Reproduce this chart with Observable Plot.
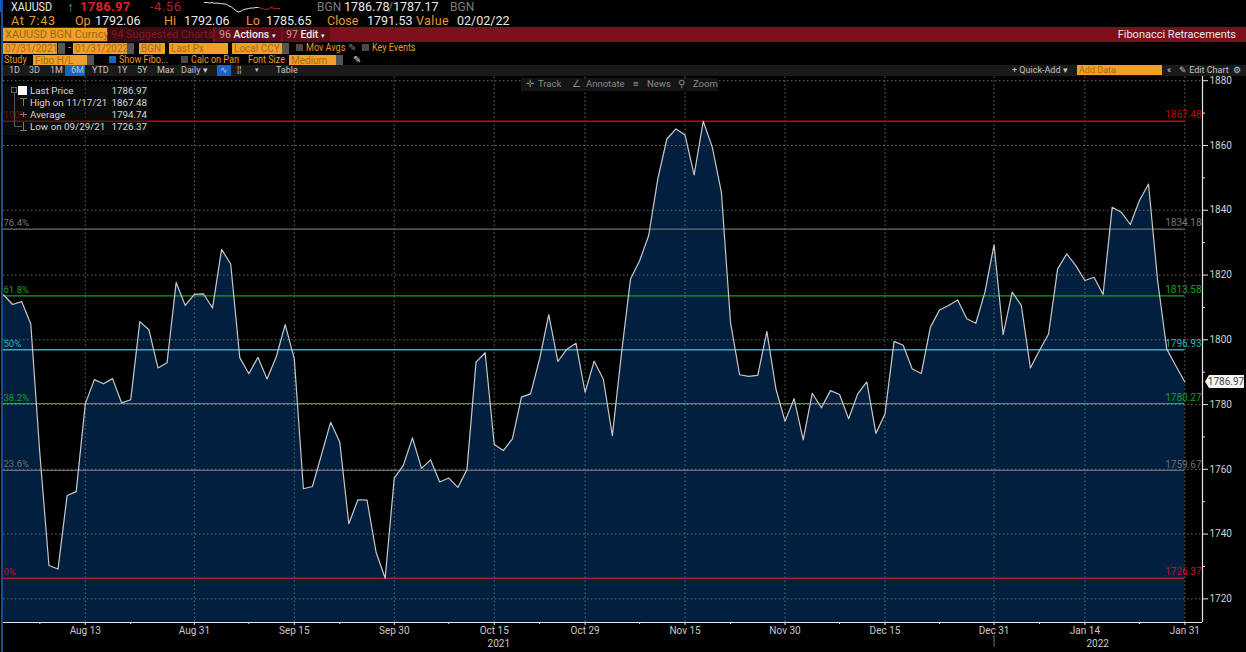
<!DOCTYPE html>
<html>
<head>
<meta charset="utf-8">
<script src="https://cdn.jsdelivr.net/npm/d3@7"></script>
<script src="https://cdn.jsdelivr.net/npm/@observablehq/plot@0.6"></script>
<style>
html,body{margin:0;padding:0;background:#000;width:1246px;height:652px;overflow:hidden;font-family:Roboto,"Liberation Sans",sans-serif}
#page{position:relative;width:1246px;height:652px;overflow:hidden}
#header{position:relative;height:76px;width:1246px}
#chart{position:absolute;left:0;top:76px}
.a{position:absolute;white-space:nowrap;line-height:12px}
.w{color:#e8e8e8}.o{color:#e89a2c}.g{color:#7d7d7d}.r{color:#e0202c}
.n{transform:scaleX(.86);transform-origin:left center}
.f{background:#f0a028;color:#a86c10;height:11px;line-height:11px;font-size:10px;padding-left:2px;box-sizing:border-box}
.dd{background:#555;height:11px;width:7px}
.b{background:#4a4a4a;width:8px;height:8px}
.bar{position:absolute;background:#1a1a18}
.s{font-size:9px;color:#c4c4c4;line-height:12px}
.lg{font-size:9.8px;color:#d8d8d8;line-height:12px}
.tb{font-size:9.5px;color:#8a8a8a;line-height:12px}
.gl{position:absolute;background:#777}
</style>
</head>
<body>
<div id="page">
<div id="header">
  <div class="a" style="left:0;top:0;width:3px;height:12px;background:#1566c8"></div>
  <div class="a w n" style="left:11px;top:1px;font-size:12.5px">XAUUSD</div>
  <div class="a" style="left:67px;top:1px;font-size:14px;color:#2fb04a">↑</div>
  <div class="a r" style="left:80px;top:1px;font-size:13px;font-weight:700;letter-spacing:.3px">1786.97</div>
  <div class="a r" style="left:150px;top:1px;font-size:13px;letter-spacing:.5px;color:#b8202a">-4.56</div>
  <div id="spark" class="a" style="left:204px;top:0"></div>
  <div class="a g" style="left:317px;top:1px;font-size:12px">BGN</div>
  <div class="a w" style="left:344px;top:1px;font-size:12.5px">1786.78</div>
  <div class="a g" style="left:388px;top:1px;font-size:12.5px">/</div>
  <div class="a w" style="left:393px;top:1px;font-size:12.5px">1787.17</div>
  <div class="a g" style="left:450px;top:1px;font-size:12px">BGN</div>

  <div class="a o" style="left:11px;top:15px;font-size:12.5px;letter-spacing:.8px">At 7:43</div>
  <div class="a o" style="left:75px;top:15px;font-size:12.5px">Op</div>
  <div class="a w" style="left:95px;top:15px;font-size:12.5px">1792.06</div>
  <div class="a o" style="left:164px;top:15px;font-size:12.5px">Hi</div>
  <div class="a w" style="left:184px;top:15px;font-size:12.5px">1792.06</div>
  <div class="a o" style="left:246px;top:15px;font-size:12.5px">Lo</div>
  <div class="a w" style="left:266px;top:15px;font-size:12.5px">1785.65</div>
  <div class="a o" style="left:327px;top:15px;font-size:12.5px">Close</div>
  <div class="a w" style="left:367px;top:15px;font-size:12.5px">1791.53</div>
  <div class="a o" style="left:416px;top:15px;font-size:12.5px;letter-spacing:.4px">Value</div>
  <div class="a w" style="left:457px;top:15px;font-size:12.5px">02/02/22</div>

  <div class="a" style="left:3px;top:27px;width:1243px;height:15px;background:#7e0f1c"></div>
  <div class="a" style="left:3px;top:28px;width:104px;height:13px;background:#f0a028;color:#a06612;font-size:11px;line-height:13px;padding-left:2px;box-sizing:border-box">XAUUSD BGN Curncy</div>
  <div class="a" style="left:108px;top:27px;width:105px;height:15px;background:#3c0a10;color:#7a1c28;font-size:11px;line-height:15px;padding-left:3px;box-sizing:border-box">94 Suggested Charts</div>
  <div class="a" style="left:215px;top:27px;width:66px;height:15px;background:#5e0d18;color:#eee;font-size:10.5px;line-height:15px;padding-left:4px;box-sizing:border-box"><span style="color:#c99">96</span> <b style="font-weight:500">Actions</b> <span style="font-size:7px">▾</span></div>
  <div class="a" style="left:283px;top:27px;width:47px;height:15px;background:#5e0d18;color:#eee;font-size:10.5px;line-height:15px;padding-left:3px;box-sizing:border-box"><span style="color:#c99">97</span> <b style="font-weight:500">Edit</b> <span style="font-size:7px">▾</span></div>
  <div class="a w" style="right:10px;top:28px;font-size:11px;line-height:13px">Fibonacci Retracements</div>

  <div class="a f" style="left:3px;top:43px;width:54px">07/31/2021</div><div class="a dd" style="left:58px;top:43px"></div>
  <div class="a o" style="left:68px;top:42px;font-size:10px">-</div>
  <div class="a f" style="left:73px;top:43px;width:54px">01/31/2022</div><div class="a dd" style="left:127px;top:43px"></div>
  <div class="a f" style="left:139px;top:43px;width:26px">BGN</div>
  <div class="a f" style="left:169px;top:43px;width:59px">Last Px</div>
  <div class="a f" style="left:232px;top:43px;width:50px">Local CCY</div><div class="a dd" style="left:282px;top:43px"></div>
  <div class="a b" style="left:296px;top:44px;width:7px;height:7px"></div>
  <div class="a o n" style="left:306px;top:42px;font-size:10.5px">Mov Avgs</div>
  <div class="a g" style="left:348px;top:42px;font-size:10px">✎</div>
  <div class="a b" style="left:362px;top:44px;width:7px;height:7px"></div>
  <div class="a o n" style="left:372px;top:42px;font-size:10.5px">Key Events</div>

  <div class="a o n" style="left:4px;top:54px;font-size:10.5px">Study</div>
  <div class="a f" style="left:33px;top:55px;width:54px">Fibo H/L</div><div class="a dd" style="left:87px;top:55px"></div>
  <div class="a" style="left:109px;top:56px;width:7px;height:7px;background:#1566c8"></div>
  <div class="a o n" style="left:119px;top:54px;font-size:10.5px">Show Fibo...</div>
  <div class="a b" style="left:181px;top:56px;width:7px;height:7px"></div>
  <div class="a o n" style="left:191px;top:54px;font-size:10.5px">Calc on Pan</div>
  <div class="a o n" style="left:248px;top:54px;font-size:10.5px">Font Size</div>
  <div class="a f" style="left:289px;top:55px;width:47px">Medium</div><div class="a dd" style="left:336px;top:55px"></div>
  <div class="a" style="left:353px;top:54px;font-size:10px;color:#ddd">✎</div>

  <div class="bar" style="left:3px;top:65px;width:1243px;height:11px"></div>
  <div class="a" style="left:65px;top:65px;width:20px;height:11px;background:#1566c8"></div>
  <div class="a" style="left:217px;top:65px;width:14px;height:11px;background:#1566c8"></div>
  <div class="a s" style="left:9px;top:64px">1D</div>
  <div class="a s" style="left:29px;top:64px">3D</div>
  <div class="a s" style="left:50px;top:64px">1M</div>
  <div class="a s" style="left:71px;top:64px">6M</div>
  <div class="a s" style="left:92px;top:64px">YTD</div>
  <div class="a s" style="left:117px;top:64px">1Y</div>
  <div class="a s" style="left:137px;top:64px">5Y</div>
  <div class="a s" style="left:157px;top:64px">Max</div>
  <div class="a s" style="left:181px;top:64px">Daily ▾</div>
  <div class="a s" style="left:220px;top:64px">∿</div>
  <div class="a s" style="left:237px;top:64px">¦¦</div>
  <div class="a s" style="left:255px;top:64px;font-size:7px">▾</div>
  <div class="a s" style="left:276px;top:64px">Table</div>
  <div class="a s" style="left:1012px;top:64px">+ Quick-Add ▾</div>
  <div class="a f" style="left:1077px;top:65px;width:85px;height:10px;line-height:10px;font-size:9px">Add Data</div>
  <div class="a s" style="left:1167px;top:64px">«</div>
  <div class="a s" style="left:1179px;top:64px">✎ Edit Chart</div>
  <div class="a s" style="left:1233px;top:64px">⚙</div>
</div>
<div id="chart"></div>

<div class="a" style="left:521px;top:78px;width:197px;height:13px;background:#141414"></div>
<div class="a tb" style="left:526px;top:78px">✛</div><div class="a tb" style="left:538px;top:78px">Track</div>
<div class="a tb" style="left:572px;top:78px">∠</div><div class="a tb" style="left:586px;top:78px">Annotate</div>
<div class="a tb" style="left:633px;top:78px">≡</div><div class="a tb" style="left:647px;top:78px">News</div>
<div class="a tb" style="left:678px;top:78px">⚲</div><div class="a tb" style="left:693px;top:78px">Zoom</div>

<div class="a" style="left:3px;top:84px;width:145px;height:51px;background:rgba(22,22,22,.45)"></div>
<div class="a" style="left:11px;top:87px;width:6px;height:6px;border:1px solid #666;box-sizing:border-box"></div>
<div class="a" style="left:18px;top:86px;width:9px;height:9px;background:#fff"></div>
<div class="a" style="left:14px;top:93px;width:7px;height:33px;border-left:1px solid #555;border-bottom:1px solid #555"></div>
<div class="gl" style="left:20px;top:98px;width:7px;height:1px"></div><div class="gl" style="left:23px;top:98px;width:1px;height:8px"></div>
<div class="gl" style="left:20px;top:114px;width:7px;height:1px"></div><div class="gl" style="left:23px;top:112px;width:1px;height:5px"></div>
<div class="gl" style="left:20px;top:130px;width:7px;height:1px"></div><div class="gl" style="left:23px;top:122px;width:1px;height:8px"></div>
<div class="a lg" style="left:30px;top:85px">Last Price</div>
<div class="a lg" style="left:30px;top:97px">High on 11/17/21</div>
<div class="a lg" style="left:30px;top:109px">Average</div>
<div class="a lg" style="left:30px;top:121px">Low on 09/29/21</div>
<div class="a lg" style="right:1099px;top:85px">1786.97</div>
<div class="a lg" style="right:1099px;top:97px">1867.48</div>
<div class="a lg" style="right:1099px;top:109px">1794.74</div>
<div class="a lg" style="right:1099px;top:121px">1726.37</div>
<div class="a" style="left:1px;top:0;width:2px;height:652px;background:#14508f"></div>
</div>

<script>
// Price series: one value per business day
const prices = [
1813.9,1810.9,1811.8,1804.9,1764.8,1730.3,1729.2,1751.9,1753.1,1780.2,
1787.7,1786.4,1788.0,1780.5,1781.5,1805.6,1803.1,1791.3,1792.9,1817.7,
1810.6,1814.0,1814.2,1809.8,1827.9,1823.4,1794.5,1789.5,1794.6,1787.9,
1794.6,1804.7,1794.1,1754.0,1754.7,1764.6,1774.5,1768.4,1743.2,1750.6,
1750.5,1734.4,1726.37,1757.3,1761.2,1769.7,1760.3,1762.9,1756.1,1757.3,
1754.4,1759.9,1793.1,1796.0,1767.7,1765.8,1769.4,1782.3,1783.3,1794.1,
1807.8,1793.3,1797.1,1798.9,1783.8,1793.4,1787.9,1770.4,1795.7,1818.8,
1824.4,1832.2,1849.7,1862.0,1865.1,1863.2,1850.9,1867.48,1859.4,1845.5,
1805.4,1789.2,1788.7,1789.0,1802.6,1784.8,1774.8,1781.8,1769.1,1783.5,
1779.0,1784.3,1783.1,1775.6,1783.3,1787.0,1771.1,1777.1,1799.5,1798.3,
1791.0,1789.6,1803.9,1809.2,1810.6,1812.3,1806.5,1805.1,1814.7,1829.3,
1801.6,1814.7,1810.6,1791.3,1796.7,1801.8,1821.9,1826.5,1822.9,1818.3,
1819.3,1814.0,1840.9,1839.4,1835.6,1843.0,1848.1,1818.3,1797.2,1792.0,
1786.97];

// Fibonacci retracement levels
const fibValues = [1867.48,1834.18,1813.58,1796.93,1780.27,1759.67,1726.37];
const fibPercents = ["100%","76.4%","61.8%","50%","38.2%","23.6%","0%"];
const fibColors = ["#d40000","#6e6e6e","#12a512","#25b8bc","#3f9f4a","#6e6a78","#c0122c"];
const fibLabelColors = ["#c00000","#777777","#18a018","#25b8bc","#18a018","#6f6f6f","#c0122c"];

// Axis labels (the x axis counts business days)
const xTickIndex = [9,21,32,43,54,64,75,86,97,109,119,130];
const xTickLabels = ["Aug 13","Aug 31","Sep 15","Sep 30","Oct 15","Oct 29","Nov 15","Nov 30","Dec 15","Dec 31","Jan 14","Jan 31"];
const xMinorIndex = [4,14,27,37,49,59,70,80,92,103,114,125];
const yTicks = [1720,1740,1760,1780,1800,1820,1840,1860,1880];
const yMinor = [1730,1750,1770,1790,1810,1830,1850,1870];
const yearLabels = ["2021","2022"];
const yearIndex = [54.5,120.4];
const yearBreakIndex = 109;
const lastPrice = 1786.97;

// Header sparkline
const sparkWhite = [12,12,11.5,11.8,11.3,11.5,11,10.8,10.6,10.2,8.5,7.5,5.5,3.5,2.5,3.5,5,5.5,6,6.5,6.5,7,7];
const sparkRed = [7,6.5,5.5,5,5.5,7,6.5,5.5,6,6];

const xMax = 131.94, yMin = 1712.7, yMax = 1881.3;
const rows = prices.map((v,i)=>({i,v}));
const fibs = fibValues.map((v,k)=>({v,pct:fibPercents[k],c:fibColors[k],lc:fibLabelColors[k]}));
const font = "Roboto, 'Liberation Sans', sans-serif";

const grid = {stroke:"#6a6a6a", strokeWidth:1, strokeDasharray:"1.5,2.5"};

const chart = Plot.plot({
  width:1246, height:576,
  marginTop:0, marginBottom:30, marginLeft:3, marginRight:44,
  style:{background:"transparent", overflow:"visible", fontFamily:font},
  x:{type:"linear", domain:[0,xMax]},
  y:{type:"linear", domain:[yMin,yMax]},
  marks:[
    Plot.areaY(rows,{x:"i", y1:yMin, y2:"v", fill:"#011f3e"}),
    Plot.ruleY(yTicks,{...grid}),
    Plot.ruleX(xTickIndex,{...grid, y1:yMin, y2:yMax}),
    Plot.ruleY(fibs,{y:"v", x1:0, x2:130, stroke:"c", strokeWidth:1.3}),
    Plot.lineY(rows,{x:"i", y:"v", stroke:"#c8c8c8", strokeWidth:1.2}),
    Plot.text(fibs,{y:"v", text:"pct", fill:"lc", frameAnchor:"left", textAnchor:"start", dy:-6, fontSize:9.5}),
    Plot.text(fibs,{y:d=>d.v, text:d=>d.v.toFixed(2), fill:"lc", frameAnchor:"right", textAnchor:"end", dx:-1, dy:-6, fontSize:10}),
    Plot.ruleY([yMin],{stroke:"#e6e6e6", strokeWidth:1.2}),
    Plot.ruleX([xMax],{y1:yMin, y2:yMax, stroke:"#e6e6e6", strokeWidth:1.2}),
    Plot.axisY({anchor:"right", ticks:yTicks, tickSize:5, tickPadding:2, tickFormat:d3.format("d"), fontSize:10, color:"#d0d0d0", stroke:"#e6e6e6", label:null}),
    Plot.axisY({anchor:"right", ticks:yMinor, tickSize:2, tickFormat:()=>"", stroke:"#e6e6e6", label:null}),
    Plot.axisX({anchor:"bottom", ticks:xTickIndex, tickSize:3, tickPadding:1, tickFormat:i=>xTickLabels[xTickIndex.indexOf(i)], fontSize:10, color:"#c8c8c8", stroke:"#e6e6e6", label:null}),
    Plot.axisX({anchor:"bottom", ticks:xMinorIndex, tickSize:2, tickFormat:()=>"", stroke:"#e6e6e6", label:null}),
    Plot.text(yearLabels,{x:(d,k)=>yearIndex[k], frameAnchor:"bottom", dy:24, fontSize:10, fill:"#c8c8c8"}),
    Plot.ruleX([yearBreakIndex],{y1:1708.7, y2:1705, stroke:"#777"}),
    (index,scales)=>{
      const x0 = scales.x(xMax)+3, y0 = scales.y(lastPrice);
      const g = d3.create("svg:g");
      g.append("path").attr("fill","#f4f4f4")
        .attr("d",`M${x0},${y0}l4,-6.5h35v13h-35z`);
      g.append("text").attr("x",x0+21).attr("y",y0).attr("dy","0.34em")
        .attr("text-anchor","middle").attr("font-size",10).attr("fill","#444")
        .text(lastPrice.toFixed(2));
      return g.node();
    }
  ]
});
document.getElementById("chart").append(chart);

const spark = Plot.plot({
  width:76, height:14, margin:0, axis:null,
  style:{background:"transparent"},
  x:{type:"linear", domain:[0,31]},
  y:{type:"linear", domain:[0,14]},
  marks:[
    Plot.lineY(sparkWhite,{x:(d,i)=>i, y:d=>d, stroke:"#e8e8e8", strokeWidth:1}),
    Plot.lineY(sparkRed,{x:(d,i)=>i+22, y:d=>d, stroke:"#d8202c", strokeWidth:1})
  ]
});
document.getElementById("spark").append(spark);
</script>
</body>
</html>
